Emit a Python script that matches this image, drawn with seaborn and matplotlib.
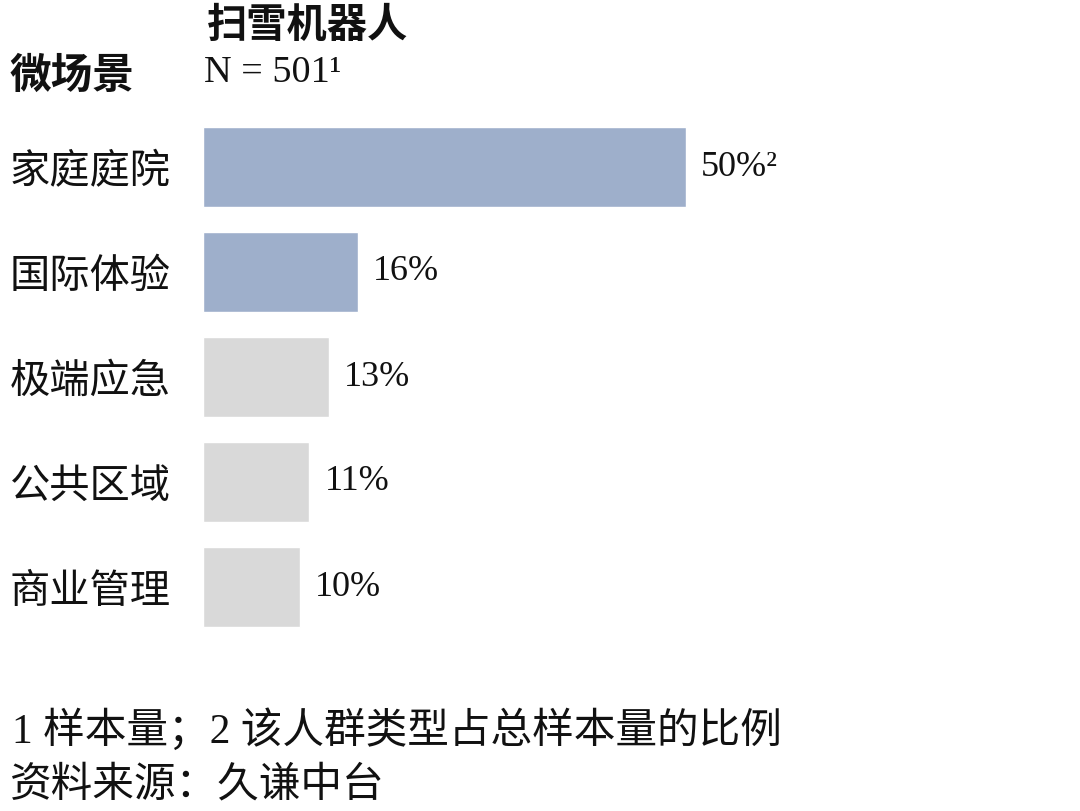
import matplotlib
matplotlib.use('Agg')
import matplotlib.pyplot as plt
import seaborn as sns
import pandas as pd

# data
categories = ['家庭庭院', '国际体验', '极端应急', '公共区域', '商业管理']
shares = [50, 16, 13, 11, 10]
share_labels = ['50%²', '16%', '13%', '11%', '10%']
bar_colors = ['#9eafcb', '#9eafcb', '#d9d9d9', '#d9d9d9', '#d9d9d9']

sns.set_style('white')
plt.rcParams['font.family'] = ['Noto Sans CJK SC', 'DejaVu Sans']

W, H = 1080, 811
fig = plt.figure(figsize=(W / 100, H / 100), dpi=100)

# axes in pixel coords: left 203, bar 50% ends at 686, rows centred 167..587
left, right = 203, 686
top, bottom = 114.5, 639.5
ax = fig.add_axes([left / W, 1 - bottom / H, (right - left) / W, (bottom - top) / H])

df = pd.DataFrame({'cat': categories, 'share': shares})
sns.barplot(data=df, x='share', y='cat', hue='cat', palette=bar_colors,
            width=0.762, legend=False, orient='h', ax=ax, saturation=1)

ax.set_xlim(0, 50)
ax.set_ylim(4.5, -0.5)
ax.set_xlabel('')
ax.set_ylabel('')
ax.set_xticks([])
sns.despine(ax=ax, left=True, bottom=True)

ax.tick_params(axis='y', length=0, pad=139)
for lab in ax.get_yticklabels():
    lab.set_ha('left')
    lab.set_fontsize(29)
    lab.set_color('#111111')

for cont, txt in zip(ax.containers, share_labels):
    ax.bar_label(cont, labels=[txt], padding=11, fontsize=26,
                 family=['Liberation Serif', 'DejaVu Serif'], color='#111111',
                 clip_on=False)

serif = ['Liberation Serif', 'Noto Sans CJK SC']

# header
fig.text(207 / W, 1 - 25 / H, '扫雪机器人', fontsize=29, fontweight='bold',
         va='center', ha='left', color='#111111')
fig.text(10 / W, 1 - 76 / H, '微场景', fontsize=30, fontweight='bold',
         va='center', ha='left', color='#111111')
fig.text(204 / W, 1 - 73 / H, 'N = 501¹', fontsize=27.5, family=serif,
         va='center', ha='left', color='#111111')

# footnotes
fig.text(12 / W, 1 - 731 / H, '1 样本量；2 该人群类型占总样本量的比例', fontsize=30,
         family=serif, va='center', ha='left', color='#111111')
fig.text(10 / W, 1 - 786 / H, '资料来源：久谦中台', fontsize=30,
         family=serif, va='center', ha='left', color='#111111')

fig.savefig('out.png', dpi=100, facecolor='white')
